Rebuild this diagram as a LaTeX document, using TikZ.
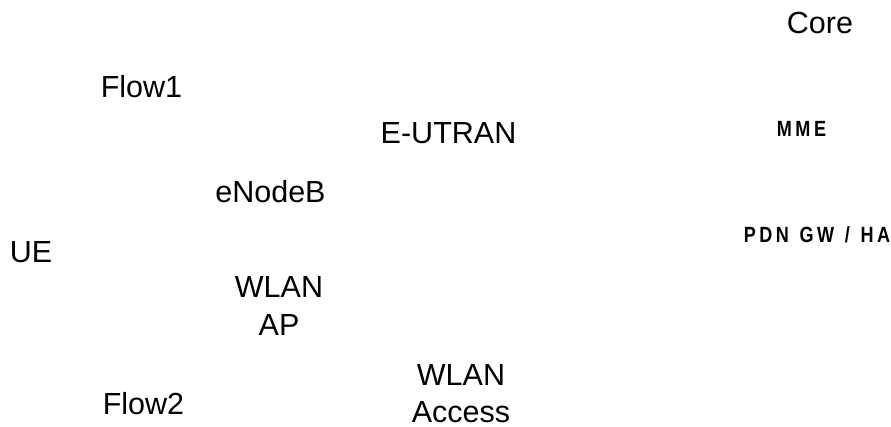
\documentclass[tikz,border=0pt]{standalone}
\usepackage{fontspec}
\setmainfont{Liberation Sans}
\newfontfamily\tagfamily{Liberation Sans}[FakeStretch=0.82,LetterSpace=16,WordSpace=1.25]
\newcommand{\labelfont}{\fontsize{30.5}{37}\selectfont}
\newcommand{\tagfont}{\tagfamily\bfseries\fontsize{22}{26}\selectfont}
\begin{document}
\begin{tikzpicture}
[x=1pt,y=-1pt,
  labeldecorate/.style={font=\labelfont,align=center,inner sep=0pt,anchor=base},%
  tagdecorate/.style={font=\tagfont,inner sep=0pt,anchor=base}]
\useasboundingbox (0,0) rectangle (891,427);
%% network elements and flows
\foreach \nodename/\x/\y/\caption in {core/820/34/Core,
  flowone/141.5/98/Flow1, eutran/448.5/144/E-UTRAN,
  enb/270.5/203/eNodeB, ue/31/263/UE,
  wlanap/279/335/{WLAN\\AP}, flowtwo/143.5/414/Flow2,
  wlanaccess/461/422/{WLAN\\Access}} {
  \node (\nodename) at (\x,\y) [labeldecorate] {\caption};
}
%% core boxes
\node (mme) at (801.5,137) [tagdecorate] {MME};
\node (pdngw) at (817,243) [tagdecorate] {PDN GW / HA};
\end{tikzpicture}
\end{document}
